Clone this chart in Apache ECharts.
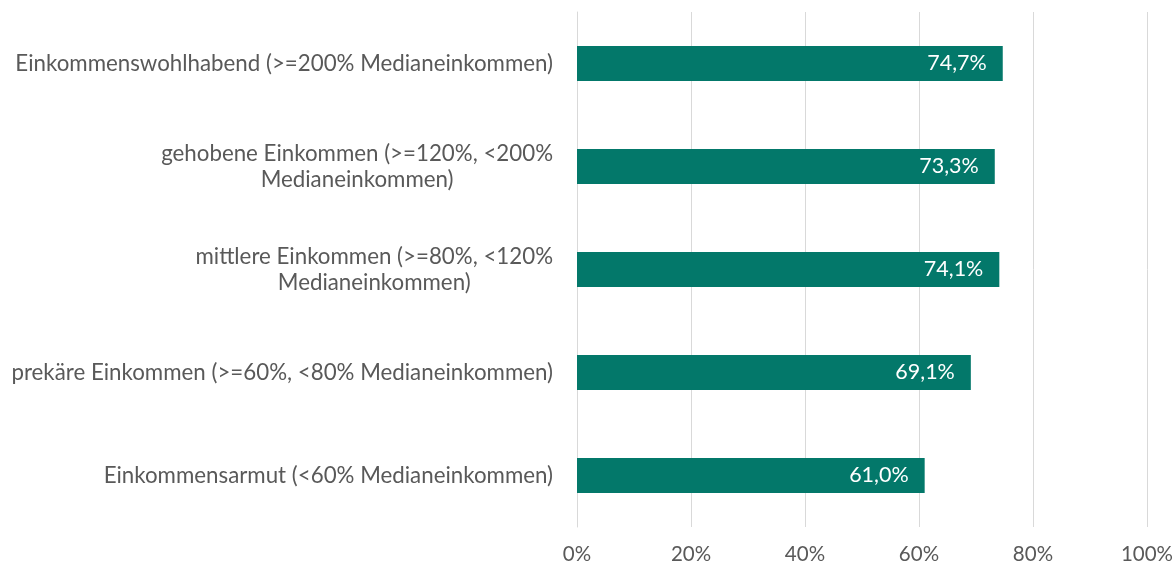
<!DOCTYPE html>
<html>
<head>
<meta charset="utf-8">
<script src="https://cdn.jsdelivr.net/npm/echarts@6/dist/echarts.min.js"></script>
<style>
  html, body { margin: 0; padding: 0; background: #fff; }
  #chart { width: 1176px; height: 565px; }
</style>
</head>
<body>
<div id="chart"></div>
<script>
// Einkommensgruppen (oben nach unten)
const categories = [
  'Einkommenswohlhabend (>=200% Medianeinkommen)',
  'gehobene Einkommen (>=120%, <200%\nMedianeinkommen)',
  'mittlere Einkommen (>=80%, <120%\nMedianeinkommen)',
  'prekäre Einkommen (>=60%, <80% Medianeinkommen)',
  'Einkommensarmut (<60% Medianeinkommen)'
]
const values = [74.7, 73.3, 74.1, 69.1, 61.0]
const xTicks = [0, 20, 40, 60, 80, 100]

const fontFamily = 'Lato, sans-serif'
const textColor = '#595959'

const chart = echarts.init(document.getElementById('chart'))
chart.setOption({
  animation: false,
  grid: {
    left: 577,
    right: 29,
    top: 12,
    bottom: 38,
    containLabel: false
  },
  xAxis: {
    type: 'value',
    min: xTicks[0],
    max: xTicks[xTicks.length - 1],
    interval: 20,
    axisLine: { show: false },
    axisTick: { show: false },
    splitLine: { lineStyle: { color: '#d9d9d9', width: 1 } },
    axisLabel: {
      color: textColor,
      fontFamily: fontFamily,
      fontSize: 20.5,
      margin: 17,
      formatter: (v) => v + '%'
    }
  },
  yAxis: {
    type: 'category',
    inverse: true,
    data: categories,
    axisLine: { show: true, lineStyle: { color: '#d9d9d9' } },
    axisTick: { show: false },
    axisLabel: {
      margin: 24,
      interval: 0,
      lineHeight: 26,
      formatter: (v) => v.split('\n').map(l => '{c|' + l + '}').join('\n'),
      rich: {
        c: {
          align: 'center',
          color: textColor,
          fontFamily: fontFamily,
          fontSize: 22.3,
          lineHeight: 26
        }
      }
    }
  },
  series: [{
    type: 'bar',
    data: values,
    barWidth: 35,
    itemStyle: { color: '#03786a' },
    label: {
      show: true,
      position: 'insideRight',
      distance: 16,
      color: '#ffffff',
      fontFamily: fontFamily,
      fontSize: 21.5,
      formatter: (p) => p.value.toFixed(1).replace('.', ',') + '%'
    }
  }]
})
</script>
</body>
</html>
